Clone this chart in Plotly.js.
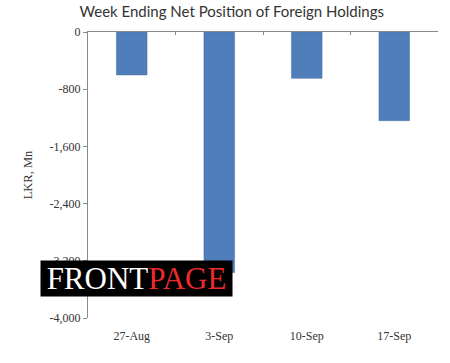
<!DOCTYPE html>
<html>
<head>
<meta charset="utf-8">
<script src="https://cdn.plot.ly/plotly-3.0.1.min.js"></script>
<style>html,body{margin:0;padding:0;background:#fff;}#chart{width:450px;height:363px;}</style>
</head>
<body>
<div id="chart"></div>
<script>
const categories = ["27-Aug", "3-Sep", "10-Sep", "17-Sep"];
const netPosition = [-600, -3365, -648, -1240];
const yTickVals = [0, -800, -1600, -2400, -3200, -4000];
const yTickLabels = ["0", "-800", "-1,600", "-2,400", "-3,200", "-4,000"];

const traces = [
  {
    type: "bar",
    x: categories,
    y: netPosition,
    marker: {color: "#4f7ebb", line: {color: "#46709f", width: 0.5}},
    hoverinfo: "skip",
    xaxis: "x",
    yaxis: "y"
  },
  {
    type: "bar",
    x: categories,
    y: netPosition.map(() => 0),
    marker: {color: "rgba(0,0,0,0)"},
    hoverinfo: "skip",
    showlegend: false,
    xaxis: "x2",
    yaxis: "y"
  }
];

const layout = {
  width: 450,
  height: 363,
  margin: {l: 88, r: 12, t: 32, b: 45},
  paper_bgcolor: "#ffffff",
  plot_bgcolor: "#ffffff",
  showlegend: false,
  bargap: 0.65,
  barmode: "overlay",
  title: {
    text: "Week Ending Net Position of Foreign Holdings",
    font: {family: "Lato, 'Liberation Sans', sans-serif", size: 15, color: "#333333"},
    x: 0.515,
    xanchor: "center",
    y: 0.968,
    yanchor: "middle"
  },
  xaxis: {
    type: "category",
    showline: false,
    ticks: "",
    showgrid: false,
    zeroline: false,
    ticklabelstandoff: 9,
    tickfont: {family: "'Liberation Serif', serif", size: 12, color: "#333333"}
  },
  xaxis2: {
    type: "category",
    overlaying: "x",
    matches: "x",
    side: "top",
    showline: true,
    linecolor: "#8a8a8a",
    linewidth: 1,
    ticks: "inside",
    ticklen: 3,
    tickcolor: "#8a8a8a",
    tickson: "boundaries",
    showticklabels: false,
    showgrid: false,
    zeroline: false
  },
  yaxis: {
    range: [-4000, 0],
    tickmode: "array",
    tickvals: yTickVals,
    ticktext: yTickLabels,
    showline: true,
    linecolor: "#8a8a8a",
    linewidth: 1,
    ticks: "outside",
    ticklen: 4,
    tickcolor: "#8a8a8a",
    showgrid: false,
    zeroline: false,
    tickfont: {family: "'Liberation Serif', serif", size: 12, color: "#333333"},
    title: {
      text: "LKR, Mn",
      font: {family: "'Liberation Serif', serif", size: 12.5, color: "#333333"},
      standoff: 14
    }
  },
  annotations: [
    {
      xref: "paper",
      yref: "paper",
      x: -0.137,
      y: 0.138,
      xanchor: "left",
      yanchor: "middle",
      showarrow: false,
      text: "FRONT<span style='color:#ee2a2e'>PAGE</span>",
      font: {family: "'Liberation Serif', serif", size: 31, color: "#ffffff"},
      bgcolor: "#000000",
      borderpad: 0,
      width: 191,
      height: 35
    }
  ]
};

Plotly.newPlot("chart", traces, layout, {displayModeBar: false, staticPlot: true});
</script>
</body>
</html>
